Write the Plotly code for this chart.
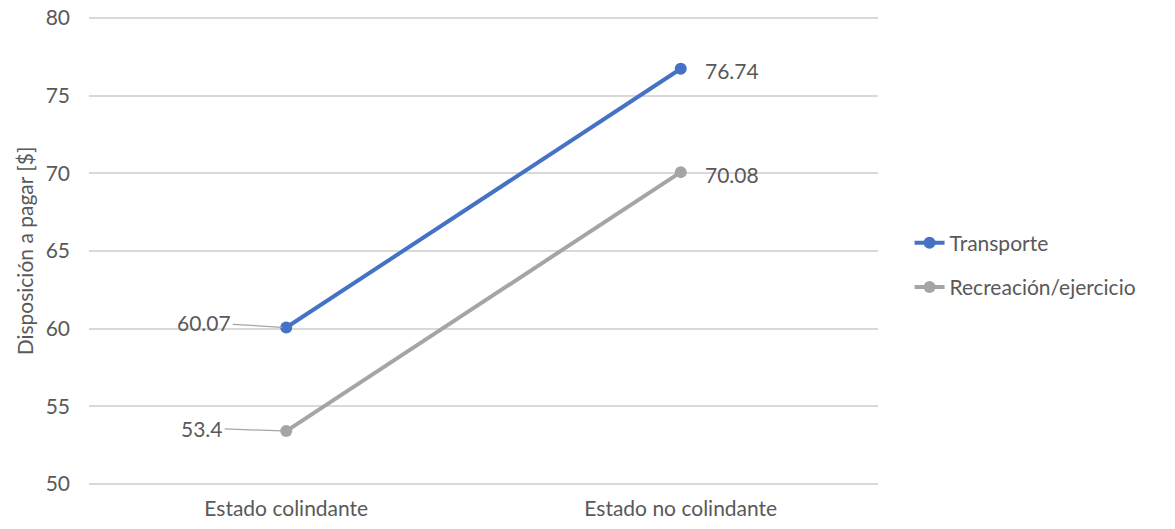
import plotly.graph_objects as go

categories = ["Estado colindante", "Estado no colindante"]
transporte = [60.07, 76.74]
recreacion = [53.4, 70.08]
series_names = ["Transporte", "Recreación/ejercicio"]
colors = ["#4472C4", "#A5A5A5"]
y_ticks = [50, 55, 60, 65, 70, 75, 80]

FONT = "Lato"
TXT = "#595959"
FS = 21

fig = go.Figure()
for i, (name, vals) in enumerate(zip(series_names, [transporte, recreacion])):
    fig.add_trace(go.Scatter(
        x=categories, y=vals, name=name, mode="lines+markers",
        line=dict(color=colors[i], width=4),
        marker=dict(color=colors[i], size=12),
        legendgroup=f"g{i}",
    ))

annotations = []
# left labels with leader lines
for vals, ax, ay in [(transporte, -82, -5), (recreacion, -84, -3)]:
    annotations.append(dict(
        x=categories[0], y=vals[0], text=f"{vals[0]:g}", showarrow=True,
        ax=ax, ay=ay, arrowhead=0, arrowwidth=1.3, arrowcolor="#A5A5A5",
        standoff=4, font=dict(family=FONT, size=FS, color=TXT),
    ))
# right labels
for vals in [transporte, recreacion]:
    annotations.append(dict(
        x=categories[1], y=vals[1], text=f"{vals[1]:.2f}", showarrow=False,
        xanchor="left", xshift=22, yshift=-2,
        font=dict(family=FONT, size=FS, color=TXT),
    ))

fig.update_layout(
    width=1175, height=529,
    margin=dict(l=89, r=297, t=15, b=42, autoexpand=False),
    paper_bgcolor="white", plot_bgcolor="white",
    font=dict(family=FONT, size=FS, color=TXT),
    annotations=annotations,
    showlegend=True,
    legend=dict(
        x=1.04, y=0.47, xanchor="left", yanchor="middle",
        font=dict(family=FONT, size=FS, color=TXT),
        traceorder="grouped", tracegroupgap=14,
        bgcolor="rgba(0,0,0,0)",
    ),
    xaxis=dict(
        type="category", range=[-0.5, 1.5], showgrid=False, zeroline=False,
        showline=False, ticks="", ticklabelstandoff=7, automargin=False,
        tickfont=dict(family=FONT, size=FS, color=TXT),
    ),
    yaxis=dict(
        range=[49.8, 80.2], tickvals=y_ticks, showgrid=True, gridcolor="#D9D9D9",
        gridwidth=1.5, zeroline=False, showline=False, ticks="",
        ticklabelstandoff=18, automargin=False,
        tickfont=dict(family=FONT, size=FS, color=TXT),
        title=dict(text="Disposición a pagar [$]", standoff=6,
                   font=dict(family=FONT, size=FS, color=TXT)),
    ),
)

fig.write_html("out.html")
